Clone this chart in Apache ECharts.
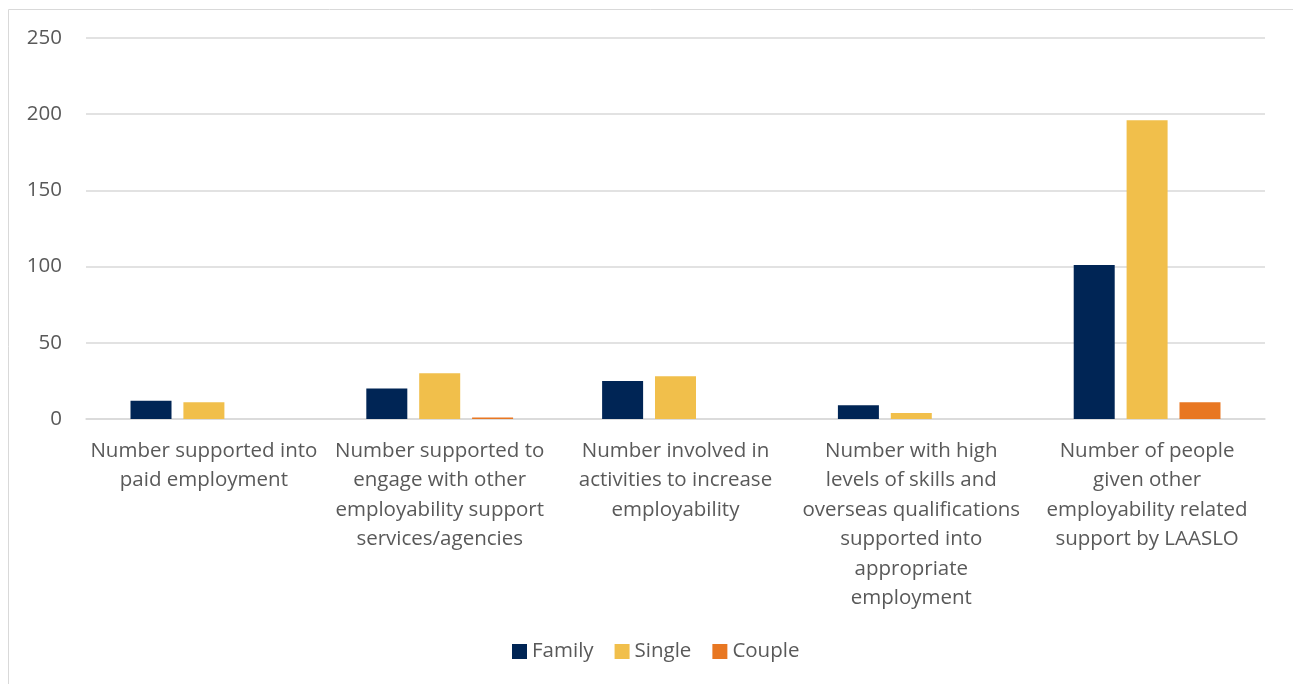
<!DOCTYPE html>
<html>
<head>
<meta charset="utf-8">
<script src="https://cdn.jsdelivr.net/npm/echarts@6/dist/echarts.min.js"></script>
<style>
  html, body { margin: 0; padding: 0; background: #fff; }
  #chart { width: 1293px; height: 684px; }
</style>
</head>
<body>
<div id="chart"></div>
<script>
// Employability support outcomes by household type
const categories = [
  'Number supported into\npaid employment',
  'Number supported to\nengage with other\nemployability support\nservices/agencies',
  'Number involved in\nactivities to increase\nemployability',
  'Number with high\nlevels of skills and\noverseas qualifications\nsupported into\nappropriate\nemployment',
  'Number of people\ngiven other\nemployability related\nsupport by LAASLO'
];
const familyValues = [12, 20, 25, 9, 101];
const singleValues = [11, 30, 28, 4, 196];
const coupleValues = [0, 1, 0, 0, 11];
const yTicks = { min: 0, max: 250, step: 50 };

const textColor = '#595959';
const fontFamily = '"Open Sans", Lato, sans-serif';
const fontSize = 20.5;

const chart = echarts.init(document.getElementById('chart'), null, { renderer: 'canvas' });

const barCommon = { type: 'bar', barWidth: 41, barGap: '29%' };

chart.setOption({
  animation: false,
  textStyle: { fontFamily: fontFamily },
  graphic: [
    // chart-area frame (top and left edges)
    { type: 'line', shape: { x1: 8.5, y1: 9.5, x2: 1293, y2: 9.5 }, style: { stroke: '#d9d9d9', lineWidth: 1 } },
    { type: 'line', shape: { x1: 8.5, y1: 9.5, x2: 8.5, y2: 684 }, style: { stroke: '#d9d9d9', lineWidth: 1 } }
  ],
  grid: { left: 86, right: 28, top: 38, bottom: 265, containLabel: false },
  legend: {
    data: ['Family', 'Single', 'Couple'],
    left: 507,
    top: 636,
    itemWidth: 15,
    itemHeight: 15,
    itemGap: 21,
    icon: 'rect',
    textStyle: { color: textColor, fontSize: fontSize, fontFamily: fontFamily }
  },
  xAxis: {
    type: 'category',
    data: categories,
    axisLine: { show: true, lineStyle: { color: '#d9d9d9', width: 1.5 } },
    axisTick: { show: false },
    axisLabel: {
      color: textColor,
      fontSize: fontSize,
      lineHeight: 29.5,
      margin: 17,
      interval: 0,
      align: 'center'
    }
  },
  yAxis: {
    type: 'value',
    min: yTicks.min,
    max: yTicks.max,
    interval: yTicks.step,
    axisLine: { show: false },
    axisTick: { show: false },
    axisLabel: { color: textColor, fontSize: fontSize, margin: 24 },
    splitLine: { lineStyle: { color: '#d9d9d9', width: 1.5 } }
  },
  series: [
    Object.assign({ name: 'Family', data: familyValues, itemStyle: { color: '#002555' } }, barCommon),
    Object.assign({ name: 'Single', data: singleValues, itemStyle: { color: '#F1BF4B' } }, barCommon),
    Object.assign({ name: 'Couple', data: coupleValues, itemStyle: { color: '#E87722' } }, barCommon)
  ]
});
</script>
</body>
</html>
